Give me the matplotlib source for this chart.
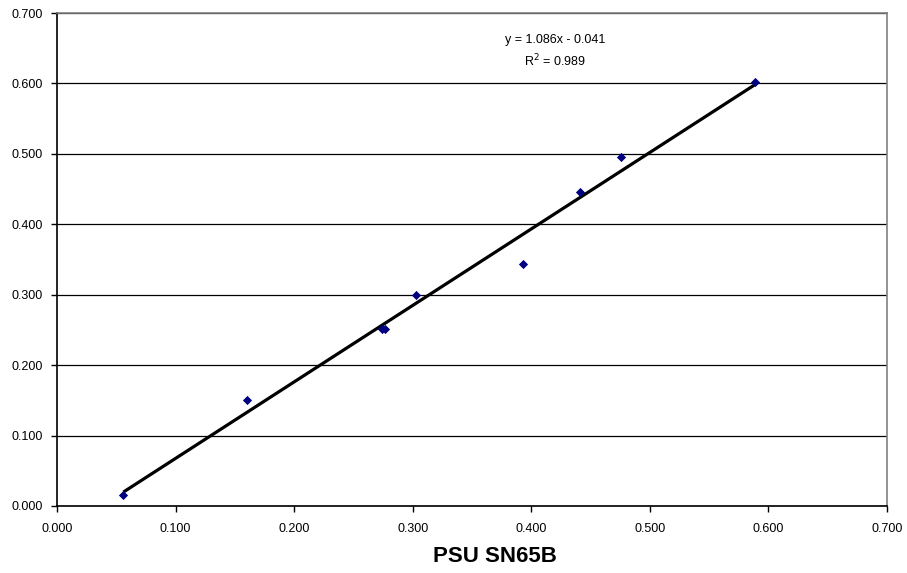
import matplotlib
matplotlib.use("Agg")
import matplotlib.pyplot as plt
import numpy as np

plt.rcParams['font.family'] = ['Liberation Sans', 'DejaVu Sans']

# Measurements: PSU SN65B (x) against comparison instrument (y)
x_vals = [0.056, 0.160, 0.274, 0.277, 0.303, 0.393, 0.441, 0.476, 0.589]
y_vals = [0.016, 0.151, 0.252, 0.252, 0.300, 0.343, 0.446, 0.495, 0.602]

# Linear trendline coefficients
slope = 1.086
intercept = -0.041
r_squared = 0.989

x_ticks = [0.0, 0.1, 0.2, 0.3, 0.4, 0.5, 0.6, 0.7]
y_ticks = [0.0, 0.1, 0.2, 0.3, 0.4, 0.5, 0.6, 0.7]

fig = plt.figure(figsize=(9.07, 5.73), dpi=100)
ax = fig.add_axes([57/907, 1-506/573, (887-57)/907, (506-13)/573])

ax.set_xlim(0, 0.7)
ax.set_ylim(0, 0.7)
ax.set_xticks(x_ticks)
ax.set_yticks(y_ticks)
ax.set_xticklabels([f"{t:.3f}" for t in x_ticks], fontsize=9)
ax.set_yticklabels([f"{t:.3f}" for t in y_ticks], fontsize=9)
ax.tick_params(axis='x', direction='out', length=4, width=1, colors='black', pad=8)
ax.tick_params(axis='y', direction='out', length=4, width=1, colors='black', pad=6.5)

ax.yaxis.grid(True, color='black', linewidth=0.9)
ax.set_axisbelow(True)

for side in ('top', 'right'):
    ax.spines[side].set_color('#808080')
    ax.spines[side].set_linewidth(1.2)
for side in ('left', 'bottom'):
    ax.spines[side].set_color('black')
    ax.spines[side].set_linewidth(1.2)

# Trendline across the data range
xl = np.array([min(x_vals), max(x_vals)])
ax.plot(xl, slope * xl + intercept, color='black', linewidth=2.3, zorder=2,
        solid_capstyle='butt')

ax.scatter(x_vals, y_vals, marker='D', s=22, color='#000080', zorder=3,
           linewidths=0)

sign = '-' if intercept < 0 else '+'
ax.text(0.4203, 0.661, f"y = {slope:.3f}x {sign} {abs(intercept):.3f}",
        ha='center', va='center', fontsize=9)
ax.text(0.4203, 0.632, f"R$^2$ = {r_squared:.3f}",
        ha='center', va='center', fontsize=9)

fig.text(495/907, 1 - 556/573, "PSU SN65B", fontsize=16, fontweight='bold',
         ha='center', va='center')

fig.savefig("out.png", dpi=100, facecolor='white')
